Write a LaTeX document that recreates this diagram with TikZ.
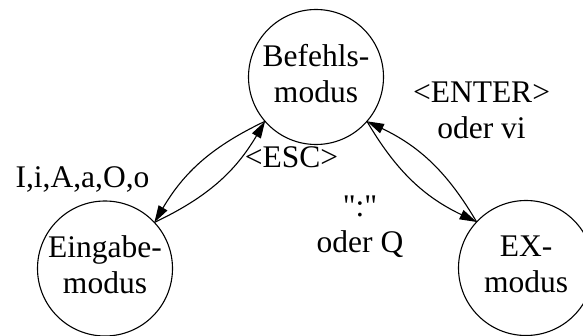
\documentclass[tikz,border=0pt]{standalone}
\usepackage{fontspec}
\setmainfont{Liberation Serif}[Ligatures=TeXOff]
\usetikzlibrary{arrows.meta}
\newcommand\lstrut{\rule[-8pt]{0pt}{30pt}}
\begin{document}
\begin{tikzpicture}[x=1pt,y=-1pt,
  every node/.style={font=\fontsize{31.5}{36}\selectfont, inner sep=0pt, outer sep=0pt, align=center},
  state/.style={circle, draw, line width=1.1pt, minimum size=135pt},
  conn/.style={line width=1.1pt, -{Triangle[length=17pt,width=10pt]}, bend right=17}]
\useasboundingbox (0,0) rectangle (583,336);
\node[state] (B) at (316,77) {\lstrut Befehls-\\\lstrut modus};
\node[state] (E) at (105,268.5) {\lstrut Eingabe-\\\lstrut modus};
\node[state] (X) at (526,268) {\lstrut EX-\\\lstrut modus};
\draw[conn] (B.221.4) to (E.43);
\draw[conn] (E.43) to (B.221.4);
\draw[conn] (B.-41.4) to (X.137.4);
\draw[conn] (X.137.4) to (B.-41.4);
\node (l1) at (82.5,181) {\lstrut I,i,A,a,O,o};
\node (l2) at (291.5,161) {\lstrut <ESC>};
\node (l3) at (481.5,114) {\lstrut <ENTER>\\\lstrut oder vi};
\node (l4) at (360,228) {\lstrut ":"\\\lstrut oder Q};
\end{tikzpicture}
\end{document}
